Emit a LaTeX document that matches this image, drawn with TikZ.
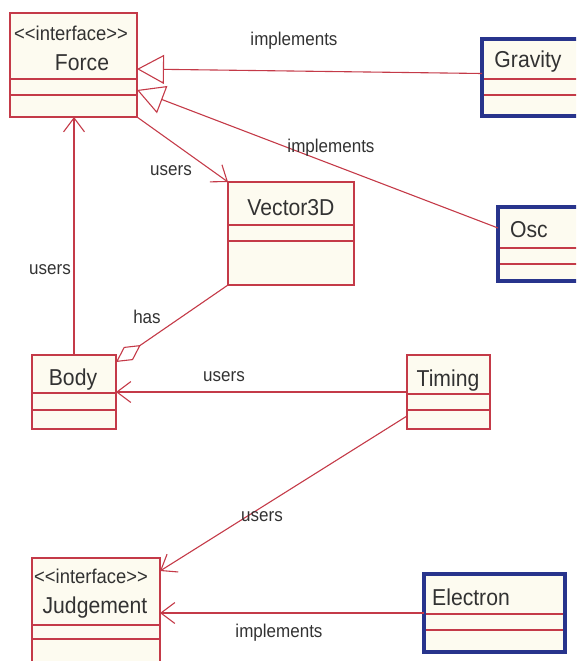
\documentclass[tikz,border=0pt]{standalone}
\usepackage{fontspec}
\newfontfamily\umlfont[FakeStretch=0.92,Ligatures=TeXOff]{Liberation Sans}
\usetikzlibrary{arrows.meta}
\definecolor{umlred}{RGB}{196,58,72}
\definecolor{umlfill}{RGB}{253,251,240}
\definecolor{umlblue}{RGB}{40,52,140}
\definecolor{umltext}{RGB}{50,50,50}
\begin{document}
\begin{tikzpicture}[x=1pt,y=-1pt,
 cls/.style={draw=umlred, fill=umlfill, line width=1.2pt, anchor=north west, inner sep=0pt, outer sep=0pt},
 bcls/.style={draw=umlblue, fill=umlfill, line width=4pt, anchor=north west, inner sep=0pt, outer sep=0pt},
 sepline/.style={draw=umlred, line width=1.2pt},
 cname/.style={font=\umlfont\fontsize{23}{26}\selectfont, text=umltext, inner sep=0pt},
 stereo/.style={font=\umlfont\fontsize{20}{22}\selectfont, text=umltext, inner sep=0pt},
 lbl/.style={font=\umlfont\fontsize{18.5}{22}\selectfont, text=umltext, inner sep=0pt},
 conn/.style={draw=umlred, line width=1.1pt},
 uses/.style={conn, -{Straight Barb[length=14pt,width=21pt]}},
 impl/.style={conn, -{Triangle[open,length=27pt,width=29pt]}},
 agg/.style={conn, {Diamond[open,length=30pt,width=16pt]}-},
]
\useasboundingbox (0,0) rectangle (576,661);
\clip (0,0) rectangle (576,661);

% classes
\node[cls, minimum width=127pt, minimum height=104pt] (force) at (10,13) {};
\draw[sepline] (10,79) -- (137,79) (10,95) -- (137,95);
\node[stereo] (forcest) at (71,33) {<<interface>>};
\node[cname] (forcenm) at (82,63) {Force};

\node[bcls, minimum width=110pt, minimum height=77pt] (gravity) at (482,39) {};
\draw[sepline] (484,79) -- (592,79) (484,95) -- (592,95);
\node[cname] (gravitynm) at (528,62) {Gravity};

\node[cls, minimum width=126pt, minimum height=103pt] (vector) at (228,182) {};
\draw[sepline] (228,225) -- (354,225) (228,241) -- (354,241);
\node[cname] (vectornm) at (291,208) {Vector3D};

\node[bcls, minimum width=100pt, minimum height=74pt] (osc) at (498,207) {};
\draw[sepline] (500,248) -- (598,248) (500,264) -- (598,264);
\node[cname] (oscnm) at (529,230) {Osc};

\node[cls, minimum width=84pt, minimum height=74pt] (body) at (32,355) {};
\draw[sepline] (32,393) -- (116,393) (32,410) -- (116,410);
\node[cname] (bodynm) at (73,380) {Body};

\node[cls, minimum width=83pt, minimum height=74pt] (timing) at (407,355) {};
\draw[sepline] (407,394) -- (490,394) (407,410) -- (490,410);
\node[cname] (timingnm) at (448,381) {Timing};

\node[cls, minimum width=128pt, minimum height=120pt] (judge) at (32,558) {};
\draw[sepline] (32,625) -- (160,625) (32,639) -- (160,639);
\node[stereo] (judgest) at (91,576) {<<interface>>};
\node[cname] (judgenm) at (95,608) {Judgement};

\node[bcls, minimum width=141pt, minimum height=78pt] (electron) at (424,574) {};
\draw[sepline] (426,614) -- (563,614) (426,630) -- (563,630);
\node[cname] (electronnm) at (471,597) {Electron};

% connectors
\draw[impl] ([yshift=4pt]gravity.west) -- ([yshift=-4pt]force.east);
\draw[impl] ([yshift=16pt]osc.west) -- ([yshift=-25pt]force.east);
\draw[uses] (force.south east) -- (vector.north west);
\draw[uses] (body.north) -- (body.north |- force.south);
\draw[agg] ([yshift=-7pt]body.north east) -- (vector.south west);
\draw[uses] (timing.west) -- (body.east);
\draw[uses] ([yshift=-24pt]timing.west) -- ([yshift=-13pt]judge.north east);
\draw[uses] (electron.west) -- (judge.east |- electron.west);

% labels
\node[lbl] (l1) at (294,41) {implements};
\node[lbl] (l2) at (331,148) {implements};
\node[lbl] (l3) at (171,171) {users};
\node[lbl] (l4) at (50,270) {users};
\node[lbl] (l5) at (147,317) {has};
\node[lbl] (l6) at (224,377) {users};
\node[lbl] (l7) at (262,517) {users};
\node[lbl] (l8) at (279,633) {implements};
\end{tikzpicture}
\end{document}
